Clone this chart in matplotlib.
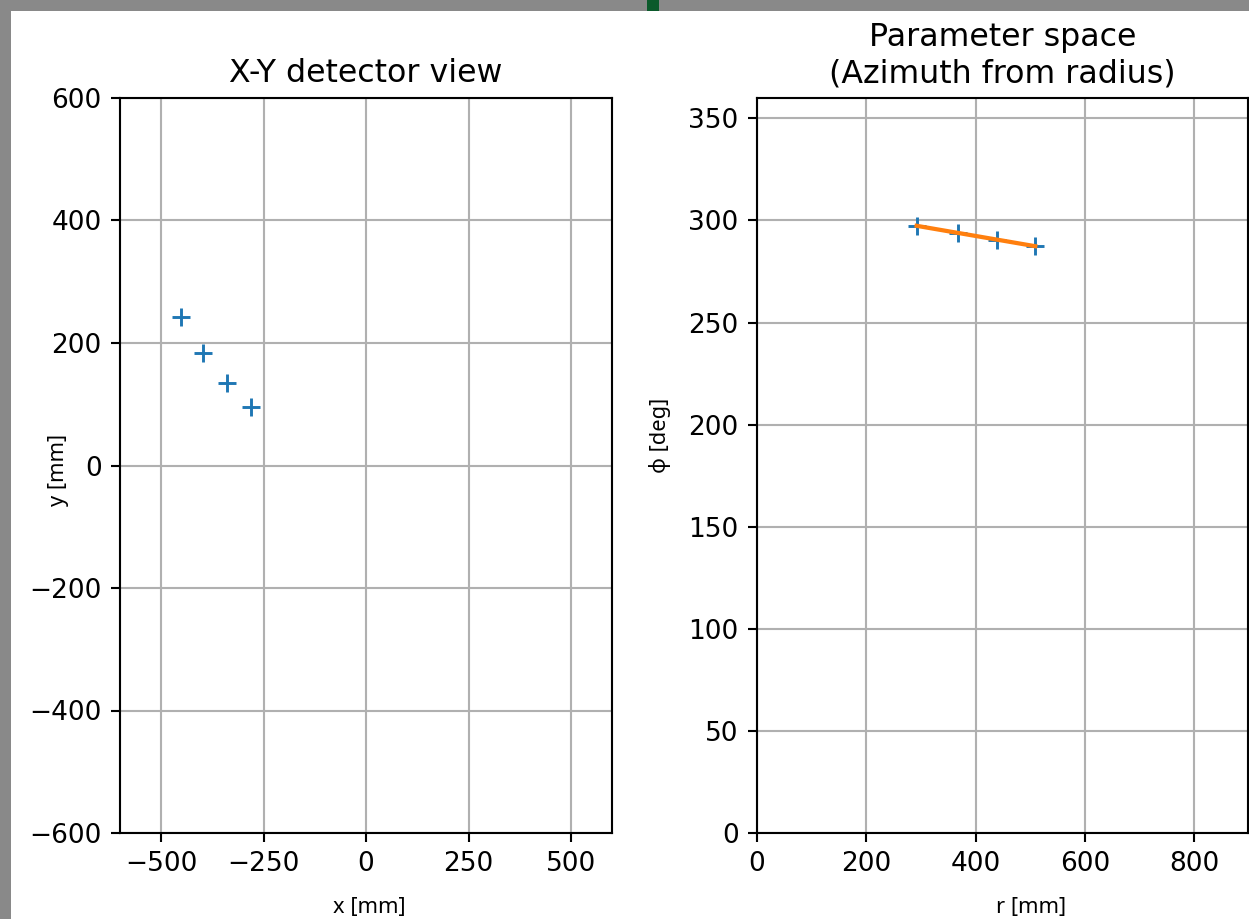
import matplotlib
matplotlib.use("Agg")
import matplotlib.pyplot as plt
from matplotlib.patches import Rectangle

# Hit positions in the transverse plane [mm]
hit_x = [-451, -398, -338, -281]
hit_y = [243, 184, 135, 96]

# Same hits in (r, phi) parameter space
hit_r = [292, 367, 439, 509]
hit_phi = [297.1, 294.0, 290.3, 287.5]

# Straight-line fit of phi versus r
fit_r = [292, 509]
fit_phi = [297.4, 287.4]

xy_ticks = [-500, -250, 0, 250, 500]
y_ticks = [-600, -400, -200, 0, 200, 400, 600]
r_ticks = [0, 200, 400, 600, 800]
phi_ticks = [0, 50, 100, 150, 200, 250, 300, 350]

W, H, DPI = 1249, 919, 190
fig = plt.figure(figsize=(W / DPI, H / DPI), dpi=DPI)
fig.patch.set_facecolor("white")


def frac(px_left, px_top, px_w, px_h):
    return [px_left / W, (H - px_top - px_h) / H, px_w / W, px_h / H]


# window frame around the canvas
fig.add_artist(Rectangle((0, 1 - 10.5 / H), 1, 10.5 / H, transform=fig.transFigure,
                         facecolor="#898989", edgecolor="none", zorder=0))
fig.add_artist(Rectangle((0, 0), 10.5 / W, 1, transform=fig.transFigure,
                         facecolor="#898989", edgecolor="none", zorder=0))
fig.add_artist(Rectangle((647 / W, 1 - 10.5 / H), 12 / W, 10.5 / H, transform=fig.transFigure,
                         facecolor="#0b5a2b", edgecolor="none", zorder=1))

label_font = dict(family=["Noto Sans", "DejaVu Sans"], fontsize=8.3)

# --- X-Y view ---
ax1 = fig.add_axes(frac(120, 98, 492, 735))
ax1.plot(hit_x, hit_y, "+", color="#1f77b4", ms=6.5, mew=1.1)
ax1.set_xlim(-600, 600)
ax1.set_ylim(-600, 600)
ax1.set_xticks(xy_ticks)
ax1.set_yticks(y_ticks)
ax1.grid(True)
ax1.set_axisbelow(True)
ax1.set_title("X-Y detector view", fontsize=12)
ax1.set_xlabel("x [mm]", va="center", **label_font)
ax1.set_ylabel("y [mm]", va="center", **label_font)
ax1.xaxis.set_label_coords(0.506, -0.102)
ax1.yaxis.set_label_coords(-0.126, 0.494)

# --- parameter space ---
ax2 = fig.add_axes(frac(757, 98, 491, 735))
ax2.plot(hit_r, hit_phi, "+", color="#1f77b4", ms=6.5, mew=1.1)
ax2.plot(fit_r, fit_phi, "-", color="#ff7f0e", lw=1.6)
ax2.set_xlim(0, 898)
ax2.set_ylim(0, 360)
ax2.set_xticks(r_ticks)
ax2.set_yticks(phi_ticks)
ax2.grid(True)
ax2.set_axisbelow(True)
ax2.set_title("Parameter space\n(Azimuth from radius)", fontsize=12)
ax2.set_xlabel("r [mm]", va="center", **label_font)
ax2.set_ylabel("φ [deg]", va="center", **label_font)
ax2.xaxis.set_label_coords(0.558, -0.102)
ax2.yaxis.set_label_coords(-0.197, 0.541)

fig.savefig("out.png", dpi=DPI)
